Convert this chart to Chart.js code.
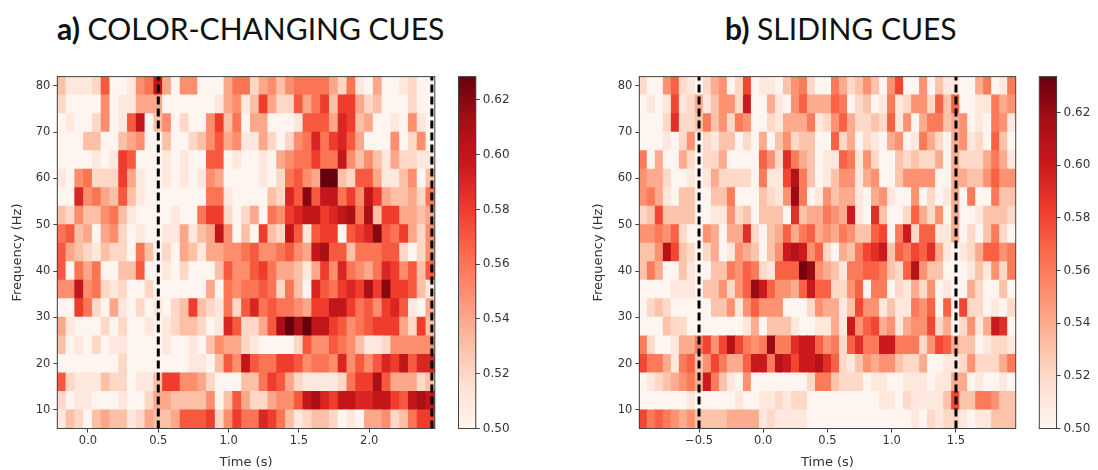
<!DOCTYPE html>
<html>
<head>
<meta charset="utf-8">
<title>Color-changing and sliding cues</title>
<script src="https://cdn.jsdelivr.net/npm/chart.js@4/dist/chart.umd.min.js"></script>
<style>
  html, body { margin: 0; padding: 0; background: #fff; }
  body { width: 1098px; height: 470px; position: relative; overflow: hidden; }
  canvas { position: absolute; filter: blur(0.45px); }
  .panel-title { position: absolute; top: 10px; font: 30px Lato, sans-serif; color: #111; white-space: nowrap; }
  .panel-title b { font-weight: 700; }
</style>
</head>
<body>
<div class="panel-title" style="left:57px"><b>a)</b> COLOR-CHANGING CUES</div>
<div class="panel-title" style="left:725px"><b>b)</b> SLIDING CUES</div>
<canvas id="heatA" width="450" height="410" style="left:0;top:60px"></canvas>
<canvas id="barA" width="70" height="410" style="left:450px;top:60px"></canvas>
<canvas id="heatB" width="450" height="410" style="left:580px;top:60px"></canvas>
<canvas id="barB" width="68" height="410" style="left:1030px;top:60px"></canvas>
<script>
/* Values are in hundredths (54 = 0.54), one array per frequency band, named by band's lower edge */

// a) color-changing cues
const a78 = [53,51,51,51,52,57,50,50,51,55,56,60,54,50,55,55,50,50,50,54,56,56,52,54,55,53,55,56,56,56,56,54,52,56,51,50,54,50,50,51,52,50,50];
const a74 = [52,50,50,50,50,55,50,51,51,54,54,54,50,50,50,50,50,50,51,54,55,51,53,58,54,52,52,57,54,56,58,53,58,58,54,52,53,50,50,50,52,50,50];
const a70 = [50,51,50,50,52,55,50,51,57,60,50,53,55,50,52,50,50,55,58,53,56,50,54,54,50,50,50,51,57,57,57,54,59,58,53,54,50,50,51,50,55,51,50];
const a66 = [50,50,50,53,53,50,50,53,54,55,50,50,53,50,50,52,53,55,57,54,55,51,51,54,52,50,52,55,56,59,56,58,59,57,54,50,50,50,55,50,52,55,50];
const a62 = [50,50,50,50,51,50,51,58,57,50,50,50,51,50,51,50,50,57,57,50,51,50,50,51,50,54,55,56,56,58,56,56,60,55,53,55,53,51,54,52,52,51,51];
const a58 = [51,50,55,56,52,52,52,58,54,51,50,50,51,50,51,50,51,55,54,50,50,50,50,51,50,52,56,57,55,54,63,63,53,52,57,57,54,51,51,53,55,50,53];
const a54 = [50,50,59,55,56,54,53,57,53,51,50,50,50,50,50,50,50,56,56,51,50,50,50,50,53,52,59,57,62,57,60,60,56,58,55,60,58,54,53,53,54,52,56];
const a50 = [53,52,55,53,53,55,56,53,51,50,50,50,50,51,50,50,56,58,58,52,50,52,54,50,56,55,58,59,60,60,58,59,60,61,56,61,53,58,58,54,54,53,54];
const a46 = [56,57,53,54,50,54,55,52,50,51,50,50,51,51,54,51,53,54,60,55,50,53,50,58,53,52,60,57,51,57,58,58,50,57,58,59,62,57,56,58,54,52,55];
const a42 = [57,54,53,52,51,53,52,52,50,56,53,50,52,50,54,53,51,54,54,55,55,56,57,55,55,56,57,55,54,60,61,57,57,53,56,56,56,57,57,52,50,52,55];
const a38 = [57,50,56,54,56,50,50,53,53,57,50,50,51,50,52,50,50,50,53,57,55,55,57,58,56,54,54,53,51,54,58,55,59,56,55,54,56,59,58,55,57,53,57];
const a34 = [55,55,60,55,56,52,51,52,50,50,52,50,50,50,50,50,50,54,50,56,55,56,56,57,56,52,56,53,50,59,57,56,58,59,58,61,58,62,58,58,57,53,51];
const a30 = [50,50,58,56,52,50,54,51,50,52,50,51,50,52,53,58,53,52,51,56,52,57,59,56,57,56,56,55,54,58,58,60,60,58,56,57,55,58,59,57,51,50,54];
const a26 = [54,51,50,50,50,52,50,52,50,50,51,50,51,52,53,53,52,50,51,59,57,52,52,54,57,61,63,61,63,60,60,58,57,55,56,57,58,58,58,54,52,58,53];
const a22 = [53,50,51,50,52,50,51,51,50,50,50,50,51,50,50,51,50,53,55,54,54,52,51,50,50,50,50,52,57,55,55,57,56,55,53,51,51,52,55,55,55,55,55];
const a18 = [50,50,50,50,50,50,50,52,50,50,50,50,50,50,50,51,51,50,53,57,55,60,57,56,56,58,58,57,55,56,56,55,59,55,57,55,57,59,58,60,57,59,59];
const a14 = [57,52,51,51,51,53,52,52,50,51,51,53,58,58,55,55,54,52,50,50,50,53,53,56,58,57,54,52,51,51,51,51,52,56,58,58,61,57,54,54,54,52,53];
const a10 = [52,50,51,51,50,50,50,51,50,50,52,54,54,53,53,53,53,55,50,53,57,54,52,52,54,55,55,57,60,61,59,58,60,60,59,59,60,60,58,57,60,61,60];
const a06 = [51,53,52,50,53,54,53,53,51,52,54,53,53,54,57,57,57,58,52,55,58,56,56,59,58,56,53,51,52,53,53,52,50,51,50,54,54,55,52,53,56,58,58];

// b) sliding cues
const b78 = [52,50,50,55,57,52,51,50,52,54,55,50,52,58,50,51,51,50,53,55,56,52,50,50,56,54,52,53,55,53,50,55,58,50,50,55,50,53,51,51,50,50,54,56,50,51,56];
const b74 = [50,51,50,51,58,51,52,54,51,53,55,55,52,60,50,50,54,51,50,55,57,54,54,54,57,56,50,52,53,50,51,56,51,52,55,55,52,57,53,57,50,50,51,51,56,54,55];
const b70 = [50,50,50,52,59,52,52,53,56,53,55,52,56,55,50,50,52,51,54,54,54,56,51,52,55,57,54,52,52,53,52,57,51,55,50,54,56,56,53,54,55,50,51,50,56,55,51];
const b66 = [50,50,50,51,50,52,55,50,52,51,53,53,50,52,50,54,50,53,55,52,53,53,50,50,57,52,54,50,52,51,50,54,55,50,51,56,54,52,50,54,55,51,52,50,57,53,50];
const b62 = [56,50,54,50,50,54,52,50,52,52,54,50,50,50,50,57,55,52,59,56,54,53,50,51,51,57,56,51,55,52,50,50,53,52,53,52,52,54,50,54,52,52,52,54,56,54,51];
const b58 = [55,54,54,52,50,50,51,50,51,54,52,52,52,52,50,56,51,51,58,61,56,53,50,51,53,55,55,51,54,55,50,50,53,55,55,55,55,50,50,54,54,53,53,55,57,55,55];
const b54 = [55,56,54,51,50,53,53,50,50,53,53,56,50,50,50,53,52,51,55,62,56,50,51,55,53,54,54,51,50,54,55,51,50,50,55,50,52,50,51,54,50,56,50,50,56,53,53];
const b50 = [52,53,58,53,53,53,53,50,50,51,51,55,52,53,50,53,53,53,50,59,53,54,54,56,55,54,60,51,50,59,53,50,50,52,57,54,52,55,50,54,50,50,51,53,53,53,52];
const b46 = [55,55,56,55,57,52,50,50,55,54,50,54,54,59,52,50,53,54,57,54,56,57,54,55,54,56,55,53,53,57,58,50,56,60,52,57,57,51,51,54,50,52,50,53,56,52,50];
const b42 = [53,53,55,61,58,53,52,50,52,54,50,51,55,54,53,50,53,55,60,61,60,55,57,52,50,54,53,56,58,59,60,53,57,56,58,57,59,54,51,50,51,52,54,57,57,55,56];
const b38 = [53,56,54,50,50,53,51,50,50,53,53,56,55,57,56,52,51,57,57,57,63,62,55,54,53,51,56,56,57,57,56,53,52,57,61,55,53,53,50,50,50,51,53,51,55,52,56];
const b34 = [50,50,50,50,51,51,51,50,53,53,55,52,55,57,62,60,57,55,55,54,57,60,57,57,52,52,55,57,50,56,56,50,52,51,54,52,55,50,51,50,50,54,52,50,50,53,50];
const b30 = [50,52,53,52,50,50,50,50,50,53,53,55,51,55,57,55,55,55,50,50,50,52,55,54,54,51,53,58,55,55,51,53,51,51,56,55,57,50,57,50,58,52,52,50,51,50,52];
const b26 = [50,50,50,53,52,52,50,50,50,50,50,50,50,51,54,50,53,53,53,51,50,50,51,51,54,51,60,55,57,58,54,55,51,54,55,55,58,52,54,50,52,55,51,54,60,59,50];
const b22 = [56,52,50,50,51,54,54,56,58,55,58,61,58,56,55,56,62,56,56,59,60,60,57,55,56,52,57,59,56,56,60,60,56,56,56,52,55,58,57,54,53,53,50,51,52,52,51];
const b18 = [58,56,56,54,51,56,57,53,55,58,56,54,54,57,60,60,56,61,60,58,60,60,61,59,57,52,51,53,55,54,55,55,53,52,52,54,50,50,51,51,52,55,52,52,52,54,56];
const b14 = [50,51,52,53,54,55,56,54,60,56,53,51,50,55,50,50,50,50,50,50,50,52,56,56,53,52,52,52,50,51,51,50,50,51,51,51,50,51,51,54,54,50,51,50,50,51,50];
const b10 = [50,50,50,50,50,50,51,50,50,50,50,50,51,50,50,51,51,52,51,52,52,50,50,50,50,50,50,50,50,50,51,51,50,52,51,51,51,51,53,58,53,53,56,56,55,53,53];
const b06 = [58,56,57,56,55,54,55,53,53,53,53,54,54,54,54,51,52,51,51,51,51,50,50,50,50,50,50,50,50,50,50,50,50,50,51,50,52,51,52,52,51,50,51,51,53,53,53];

// Band lower edges, bottom row first
const freqEdges = [6,10,14,18,22,26,30,34,38,42,46,50,54,58,62,66,70,74,78];
const bandHeight = 4;
const rowsA = [a06,a10,a14,a18,a22,a26,a30,a34,a38,a42,a46,a50,a54,a58,a62,a66,a70,a74,a78];
const rowsB = [b06,b10,b14,b18,b22,b26,b30,b34,b38,b42,b46,b50,b54,b58,b62,b66,b70,b74,b78];

const freqTicks = [10,20,30,40,50,60,70,80];
const timeTicksA = [0,0.5,1,1.5,2];
const timeTicksB = [-0.5,0,0.5,1,1.5];
const cueLinesA = [0.5,2.445];
const cueLinesB = [-0.5,1.5];
const barTicks = [0.50,0.52,0.54,0.56,0.58,0.60,0.62];

// matplotlib "Reds" stops
const reds = ['#fff5f0','#fee0d2','#fcbba1','#fc9272','#fb6a4a','#ef3b2c','#cb181d','#a50f15','#67000d'];

function hexToRgb(h) {
  return [1, 3, 5].map(i => parseInt(h.substr(i, 2), 16));
}

function redsColor(v, vmin, vmax) {
  const t = Math.min(1, Math.max(0, (v - vmin) / (vmax - vmin))) * (reds.length - 1);
  const i = Math.min(reds.length - 2, Math.floor(t));
  const a = hexToRgb(reds[i]), b = hexToRgb(reds[i + 1]);
  const c = a.map((x, n) => Math.round(x + (b[n] - x) * (t - i)));
  return `rgb(${c[0]},${c[1]},${c[2]})`;
}

const axisColor = '#444';
const tickFont = { family: 'DejaVu Sans', size: 11.5 };
const barTickFont = { family: 'DejaVu Sans', size: 12 };
const titleFont = { family: 'DejaVu Sans', size: 13 };

// Closes the axes box on the top and right
const framePlugin = {
  id: 'frame',
  afterDatasetsDraw(chart) {
    const a = chart.chartArea, ctx = chart.ctx;
    ctx.save();
    ctx.strokeStyle = axisColor;
    ctx.lineWidth = 1;
    ctx.strokeRect(a.left, a.top, a.right - a.left, a.bottom - a.top);
    ctx.restore();
  }
};

function makeHeatmap(id, rows, cfg) {
  const cellWidth = (cfg.xMax - cfg.xMin) / rows[0].length;
  const datasets = rows.map((row, r) => ({
    type: 'bar',
    order: 2,
    data: row.map((v, c) => ({ x: cfg.xMin + (c + 0.5) * cellWidth, y: [freqEdges[r], freqEdges[r] + bandHeight] })),
    backgroundColor: row.map(v => redsColor(v / 100, 0.5, cfg.vMax)),
    borderWidth: 0,
    inflateAmount: 0.5,
    grouped: false,
    barPercentage: 1,
    categoryPercentage: 1
  }));

  // Dashed cue markers
  cfg.lines.forEach(t => {
    datasets.push({
      type: 'line',
      order: 1,
      data: [{ x: t, y: 6 }, { x: t, y: 82 }],
      borderColor: '#000',
      borderWidth: 3,
      borderDash: [8, 4],
      pointRadius: 0,
      fill: false
    });
  });

  new Chart(document.getElementById(id), {
    data: { datasets },
    plugins: [framePlugin],
    options: {
      responsive: false,
      animation: false,
      layout: { padding: { top: 16.6, right: cfg.padRight, left: 0, bottom: 0 } },
      plugins: { legend: { display: false }, tooltip: { enabled: false } },
      scales: {
        x: {
          type: 'linear',
          offset: false,
          min: cfg.xMin,
          max: cfg.xMax,
          afterBuildTicks: s => { s.ticks = cfg.xTicks.map(value => ({ value })); },
          afterFit: s => { s.height = 41.5; },
          grid: { offset: false, drawOnChartArea: false, tickLength: 4, color: axisColor },
          border: { color: axisColor },
          ticks: { color: '#333', font: tickFont, padding: 2, maxRotation: 0, callback: v => v.toFixed(1).replace('-', '\u2212') },
          title: { display: true, text: 'Time (s)', color: '#333', font: titleFont, padding: { top: 0, bottom: 0 } }
        },
        y: {
          type: 'linear',
          min: 6,
          max: 82,
          afterBuildTicks: s => { s.ticks = freqTicks.map(value => ({ value })); },
          afterFit: s => { s.width = cfg.axisWidth; },
          grid: { drawOnChartArea: false, tickLength: 4, color: axisColor },
          border: { color: axisColor },
          ticks: { color: '#333', font: tickFont, padding: 3 },
          title: { display: true, text: 'Frequency (Hz)', color: '#333', font: titleFont, padding: { top: cfg.titlePad, bottom: 0 } }
        }
      }
    }
  });
}

function makeColorbar(id, vMax, padLeft, axisWidth) {
  new Chart(document.getElementById(id), {
    type: 'bar',
    data: {
      labels: [''],
      datasets: [{
        data: [[0.5, vMax]],
        borderWidth: 0,
        barPercentage: 1,
        categoryPercentage: 1,
        backgroundColor(ctx) {
          const a = ctx.chart.chartArea;
          if (!a) return reds[4];
          const g = ctx.chart.ctx.createLinearGradient(0, a.bottom, 0, a.top);
          reds.forEach((c, i) => g.addColorStop(i / (reds.length - 1), c));
          return g;
        }
      }]
    },
    plugins: [framePlugin],
    options: {
      responsive: false,
      animation: false,
      layout: { padding: { top: 16.6, bottom: 41.5, left: padLeft, right: 0 } },
      plugins: { legend: { display: false }, tooltip: { enabled: false } },
      scales: {
        x: { display: false },
        y: {
          position: 'right',
          min: 0.5,
          max: vMax,
          afterBuildTicks: s => { s.ticks = barTicks.map(value => ({ value })); },
          afterFit: s => { s.width = axisWidth; },
          grid: { drawOnChartArea: false, tickLength: 4, color: axisColor },
          border: { color: axisColor },
          ticks: { color: '#333', font: barTickFont, padding: 3, callback: v => v.toFixed(2) }
        }
      }
    }
  });
}

makeHeatmap('heatA', rowsA, {
  xMin: -0.218, xMax: 2.466, vMax: 0.6285, xTicks: timeTicksA, lines: cueLinesA,
  axisWidth: 57.3, padRight: 15.2, titlePad: 10
});
makeHeatmap('heatB', rowsB, {
  xMin: -0.965, xMax: 1.965, vMax: 0.6337, xTicks: timeTicksB, lines: cueLinesB,
  axisWidth: 59.3, padRight: 14.3, titlePad: 11
});
makeColorbar('barA', 0.6285, 8.5, 44.2);
makeColorbar('barB', 0.6337, 9.3, 41.4);
</script>
</body>
</html>
